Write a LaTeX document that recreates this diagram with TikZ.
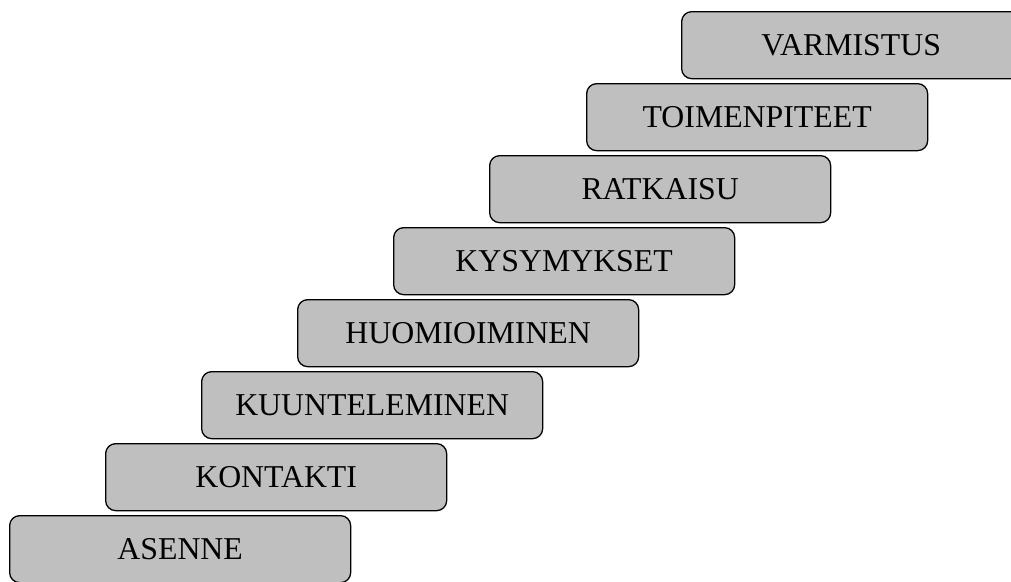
\documentclass[tikz,border=0pt]{standalone}
\usepackage{fontspec}
\setmainfont{Liberation Serif}
\begin{document}
\begin{tikzpicture}[x=1pt,y=-1pt,
  stepbox/.style={draw=black, line width=1.3pt, fill=stepgray, rounded corners=10pt,
    minimum width=341pt, minimum height=67pt, inner sep=0pt, anchor=north west,
    font=\fontsize{31.8}{36}\selectfont}]
\definecolor{stepgray}{HTML}{BFBFBF}
\useasboundingbox (0,0) rectangle (1011,581);
\clip (0,0) rectangle (1011,581);
\node[stepbox] (asenne) at (9,515) {ASENNE};
\node[stepbox] (kontakti) at (105,443) {KONTAKTI};
\node[stepbox] (kuuntel) at (201,371) {KUUNTELEMINEN};
\node[stepbox] (huomio) at (297,299) {HUOMIOIMINEN};
\node[stepbox] (kysym) at (393,227) {KYSYMYKSET};
\node[stepbox] (ratk) at (489,155) {RATKAISU};
\node[stepbox] (toim) at (586,83) {TOIMENPITEET};
\node[stepbox, minimum width=345pt] (varm) at (681,11) {\hspace*{-6pt}VARMISTUS};
\end{tikzpicture}
\end{document}
